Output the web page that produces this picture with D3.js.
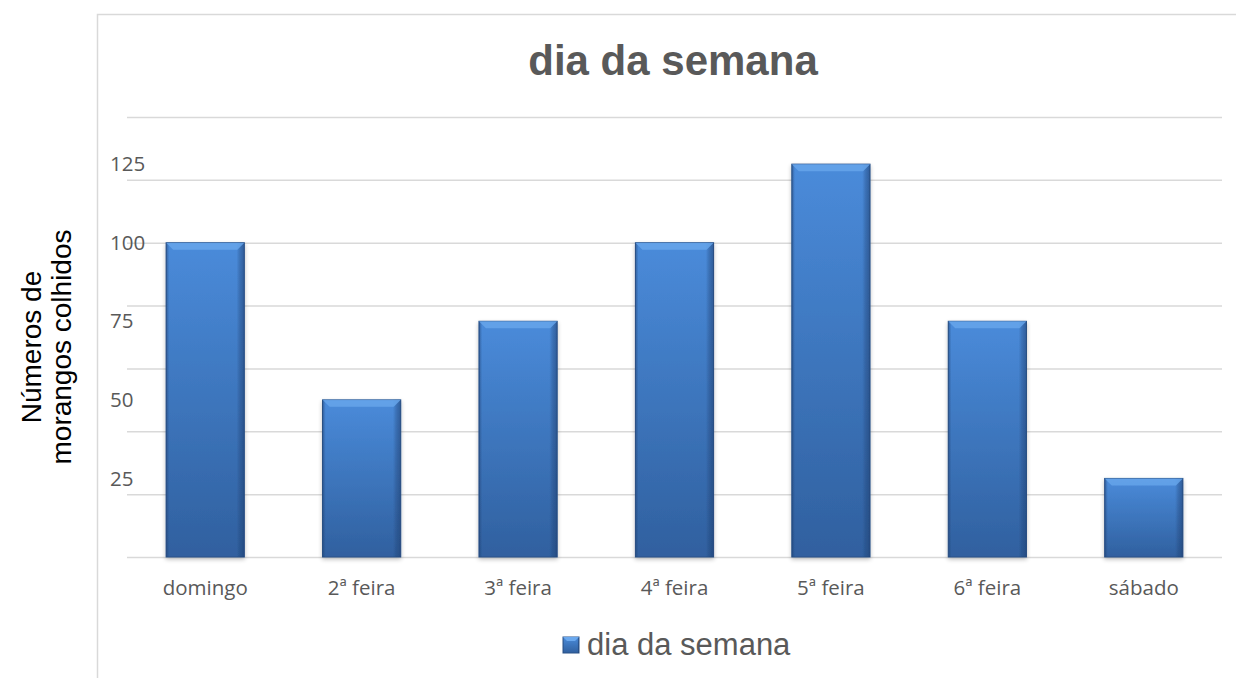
<!DOCTYPE html>
<html>
<head>
<meta charset="utf-8">
<style>
  body { margin: 0; background: #fff; overflow: hidden; }
  svg { display: block; }
</style>
</head>
<body>
<script src="https://d3js.org/d3.v7.min.js"></script>
<script>
// dados
var categories = ["domingo", "2ª feira", "3ª feira", "4ª feira", "5ª feira", "6ª feira", "sábado"];
var values = [100, 50, 75, 100, 125, 75, 25];
var gridTicks = [0, 20, 40, 60, 80, 100, 120, 140];
var tickLabels = [25, 50, 75, 100, 125];
var title = "dia da semana";
var yTitle = ["Números de", "morangos colhidos"];

var width = 1236, height = 678;
var plot = { left: 127, right: 1222, top: 117, bottom: 557 };

var svg = d3.select("body").append("svg")
    .attr("width", width)
    .attr("height", height);

var defs = svg.append("defs");
var g1 = defs.append("linearGradient").attr("id", "barFill")
    .attr("x1", 0).attr("y1", 0).attr("x2", 0).attr("y2", 1);
g1.append("stop").attr("offset", "0%").attr("stop-color", "#4a8bda");
g1.append("stop").attr("offset", "100%").attr("stop-color", "#30609f");

var g2 = defs.append("linearGradient").attr("id", "barSide")
    .attr("x1", 0).attr("y1", 0).attr("x2", 1).attr("y2", 0);
g2.append("stop").attr("offset", "0%").attr("stop-color", "#1f3f70").attr("stop-opacity", 0.55);
g2.append("stop").attr("offset", "4%").attr("stop-color", "#1f3f70").attr("stop-opacity", 0);
g2.append("stop").attr("offset", "90%").attr("stop-color", "#1f3f70").attr("stop-opacity", 0);
g2.append("stop").attr("offset", "94%").attr("stop-color", "#1f3f70").attr("stop-opacity", 0.3);
g2.append("stop").attr("offset", "100%").attr("stop-color", "#1f3f70").attr("stop-opacity", 0.6);

var shadow = defs.append("filter").attr("id", "shadow")
    .attr("x", "-10%").attr("y", "-10%").attr("width", "120%").attr("height", "120%");
shadow.append("feGaussianBlur").attr("in", "SourceAlpha").attr("stdDeviation", 2);
shadow.append("feOffset").attr("dx", 0).attr("dy", 2).attr("result", "b");
shadow.append("feComponentTransfer").append("feFuncA").attr("type", "linear").attr("slope", 0.25);
var merge = shadow.append("feMerge");
merge.append("feMergeNode");
merge.append("feMergeNode").attr("in", "SourceGraphic");

// borda do gráfico
svg.append("path")
    .attr("d", "M97.5,700V14.5H1240")
    .attr("fill", "none")
    .attr("stroke", "#d9d9d9")
    .attr("stroke-width", 1.5);

var x = d3.scaleBand()
    .domain(categories)
    .range([plot.left, plot.right])
    .paddingInner(0.5)
    .paddingOuter(0.25);

var y = d3.scaleLinear()
    .domain([0, 140])
    .range([plot.bottom, plot.top]);

// linhas de grade
svg.append("g")
    .attr("transform", "translate(" + plot.left + ",0)")
    .call(d3.axisLeft(y).tickValues(gridTicks).tickSize(-(plot.right - plot.left)).tickFormat(""))
    .call(function(g) {
        g.select(".domain").remove();
        g.selectAll(".tick line").attr("stroke", "#d9d9d9").attr("stroke-width", 1.5);
    });

// rótulos do eixo y
svg.append("g")
    .selectAll("text")
    .data(tickLabels)
    .enter()
    .append("text")
    .attr("x", 110)
    .attr("y", function(d) { return y(d); })
    .attr("dy", "0.35em")
    .attr("font-family", "Open Sans")
    .attr("font-size", "20.5px")
    .attr("fill", "#595959")
    .text(function(d) { return d; });

// barras
var bars = svg.append("g").selectAll("g")
    .data(values)
    .enter()
    .append("g")
    .attr("filter", "url(#shadow)");

bars.append("rect")
    .attr("x", function(d, i) { return x(categories[i]); })
    .attr("y", function(d) { return y(d); })
    .attr("width", x.bandwidth())
    .attr("height", function(d) { return y(0) - y(d); })
    .attr("fill", "url(#barFill)")
    .attr("stroke", "#2a5288")
    .attr("stroke-width", 1);

bars.append("rect")
    .attr("x", function(d, i) { return x(categories[i]); })
    .attr("y", function(d) { return y(d); })
    .attr("width", x.bandwidth())
    .attr("height", function(d) { return y(0) - y(d); })
    .attr("fill", "url(#barSide)");

// chanfro superior
bars.append("polygon")
    .attr("points", function(d, i) {
        var x0 = x(categories[i]), x1 = x0 + x.bandwidth(), y0 = y(d), b = 7;
        return [[x0, y0], [x1, y0], [x1 - b, y0 + b], [x0 + b, y0 + b]].join(" ");
    })
    .attr("fill", "#66a4ea")
    .attr("opacity", 0.85);

// rótulos das categorias
svg.append("g")
    .selectAll("text")
    .data(categories)
    .enter()
    .append("text")
    .attr("x", function(d) { return x(d) + x.bandwidth() / 2; })
    .attr("y", 595)
    .attr("text-anchor", "middle")
    .attr("font-family", "Open Sans")
    .attr("font-size", "20.5px")
    .attr("fill", "#595959")
    .text(function(d) { return d; });

// título
svg.append("text")
    .attr("x", 673)
    .attr("y", 75)
    .attr("text-anchor", "middle")
    .attr("font-family", "Liberation Sans, Arial, sans-serif")
    .attr("font-weight", "bold")
    .attr("font-size", "42px")
    .attr("fill", "#595959")
    .text(title);

// título do eixo y
var yt = svg.append("text")
    .attr("transform", "translate(0,347) rotate(-90)")
    .attr("text-anchor", "middle")
    .attr("font-family", "Liberation Sans, Arial, sans-serif")
    .attr("font-size", "28px")
    .attr("fill", "#000");
yt.selectAll("tspan")
    .data(yTitle)
    .enter()
    .append("tspan")
    .attr("x", 0)
    .attr("y", function(d, i) { return 41 + i * 30; })
    .text(function(d) { return d; });

// legenda
var leg = svg.append("g").attr("transform", "translate(563,637)");
leg.append("rect")
    .attr("width", 16).attr("height", 16)
    .attr("fill", "url(#barFill)")
    .attr("stroke", "#2a5288");
leg.append("rect")
    .attr("width", 16).attr("height", 16)
    .attr("fill", "url(#barSide)");
leg.append("polygon")
    .attr("points", "0,0 16,0 12,4 4,4")
    .attr("fill", "#6aa8ee");
leg.append("text")
    .attr("x", 24)
    .attr("y", 18)
    .attr("font-family", "Liberation Sans, Arial, sans-serif")
    .attr("font-size", "31px")
    .attr("fill", "#595959")
    .text(title);
</script>
</body>
</html>
